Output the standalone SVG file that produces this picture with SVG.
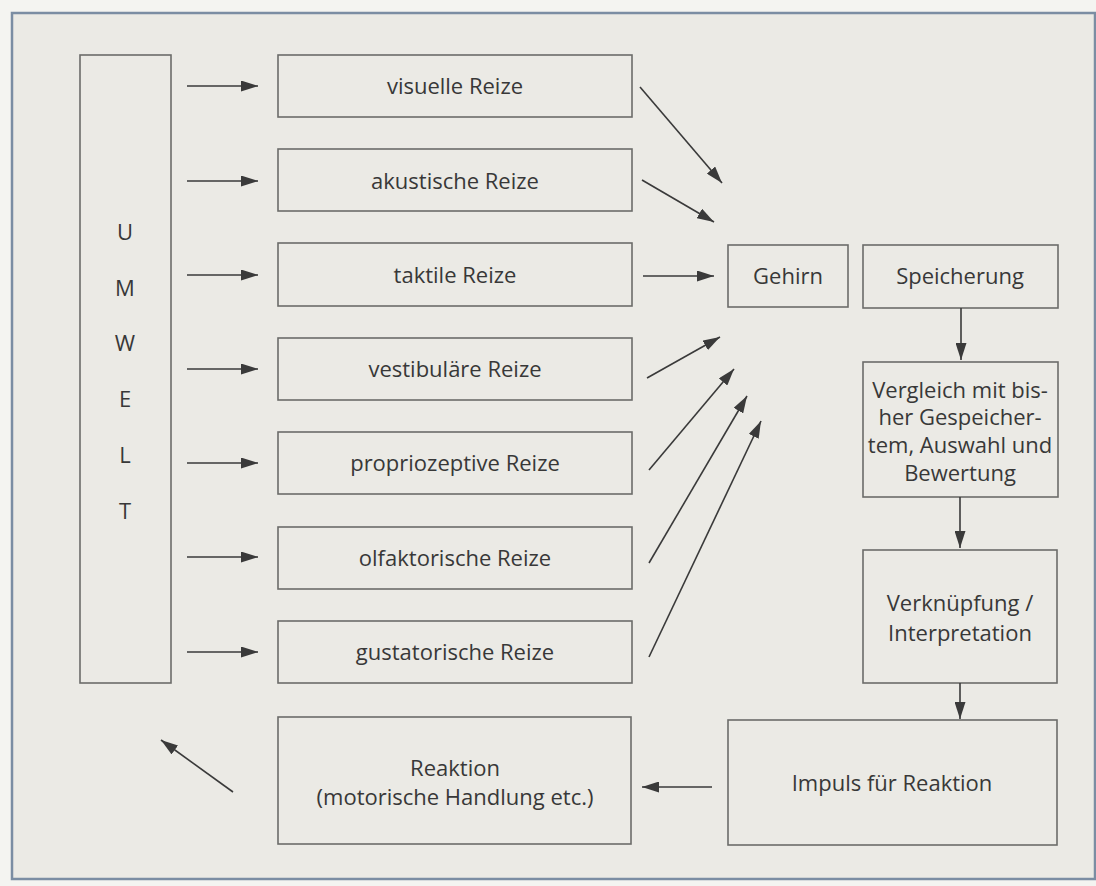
<svg xmlns="http://www.w3.org/2000/svg" width="1096" height="886" viewBox="0 0 1096 886">
<defs>
<marker id="ah" markerWidth="17" markerHeight="11" refX="17" refY="5.5" orient="auto" markerUnits="userSpaceOnUse">
<path d="M0,0 L17,5.5 L0,11 Z" fill="#3a3a3a"/>
</marker>
<style>
.box{fill:#ebeae5;stroke:#6c6c6a;stroke-width:1.6}
.t{font-family:"Open Sans","DejaVu Sans",sans-serif;font-size:22px;fill:#383838;text-anchor:middle}
.c{stroke:#3a3a3a;stroke-width:1.6;fill:none;marker-end:url(#ah)}
</style>
</defs>
<rect x="0" y="0" width="1096" height="886" fill="#f4f4f1"/>
<rect x="12" y="13" width="1083" height="866" fill="#ebeae5" stroke="#7b8da3" stroke-width="2.5"/>

<g id="umwelt">
<rect class="box" x="80" y="55" width="91" height="628"/>
<text class="t" x="125" y="240">U</text>
<text class="t" x="125" y="296">M</text>
<text class="t" x="125" y="351">W</text>
<text class="t" x="125" y="407">E</text>
<text class="t" x="125" y="463">L</text>
<text class="t" x="125" y="519">T</text>
</g>

<g id="visuelle"><rect class="box" x="278" y="55" width="354" height="62"/><text class="t" x="455" y="94">visuelle Reize</text></g>
<g id="akustische"><rect class="box" x="278" y="149" width="354" height="62"/><text class="t" x="455" y="189">akustische Reize</text></g>
<g id="taktile"><rect class="box" x="278" y="243" width="354" height="63"/><text class="t" x="455" y="283">taktile Reize</text></g>
<g id="vestibulaere"><rect class="box" x="278" y="338" width="354" height="62"/><text class="t" x="455" y="377">vestibuläre Reize</text></g>
<g id="proprio"><rect class="box" x="278" y="432" width="354" height="62"/><text class="t" x="455" y="471">propriozeptive Reize</text></g>
<g id="olfaktorische"><rect class="box" x="278" y="527" width="354" height="62"/><text class="t" x="455" y="566">olfaktorische Reize</text></g>
<g id="gustatorische"><rect class="box" x="278" y="621" width="354" height="62"/><text class="t" x="455" y="660">gustatorische Reize</text></g>

<g id="gehirn"><rect class="box" x="728" y="245" width="120" height="62"/><text class="t" x="788" y="284">Gehirn</text></g>
<g id="speicherung"><rect class="box" x="863" y="245" width="195" height="63"/><text class="t" x="960" y="284">Speicherung</text></g>
<g id="vergleich"><rect class="box" x="863" y="362" width="195" height="135"/>
<text class="t" x="960" y="398">Vergleich mit bis-</text>
<text class="t" x="960" y="425">her Gespeicher-</text>
<text class="t" x="960" y="453">tem, Auswahl und</text>
<text class="t" x="960" y="481">Bewertung</text></g>
<g id="verknuepfung"><rect class="box" x="863" y="550" width="194" height="133"/>
<text class="t" x="960" y="611">Verknüpfung /</text>
<text class="t" x="960" y="641">Interpretation</text></g>
<g id="impuls"><rect class="box" x="728" y="720" width="329" height="125"/><text class="t" x="892" y="791">Impuls für Reaktion</text></g>
<g id="reaktion"><rect class="box" x="278" y="717" width="353" height="127"/>
<text class="t" x="455" y="776">Reaktion</text>
<text class="t" x="455" y="805">(motorische Handlung etc.)</text></g>

<g id="connectors">
<line class="c" x1="187" y1="86" x2="258" y2="86"/>
<line class="c" x1="187" y1="181" x2="258" y2="181"/>
<line class="c" x1="187" y1="275" x2="258" y2="275"/>
<line class="c" x1="187" y1="369" x2="258" y2="369"/>
<line class="c" x1="187" y1="463" x2="258" y2="463"/>
<line class="c" x1="187" y1="557" x2="258" y2="557"/>
<line class="c" x1="187" y1="652" x2="258" y2="652"/>
<line class="c" x1="640" y1="87" x2="722" y2="183"/>
<line class="c" x1="642" y1="180" x2="714" y2="222"/>
<line class="c" x1="643" y1="276" x2="714" y2="276"/>
<line class="c" x1="647" y1="378" x2="720" y2="337"/>
<line class="c" x1="649" y1="470" x2="734" y2="369"/>
<line class="c" x1="649" y1="563" x2="747" y2="396"/>
<line class="c" x1="649" y1="657" x2="761" y2="421"/>
<line class="c" x1="961" y1="308" x2="961" y2="360"/>
<line class="c" x1="960" y1="497" x2="960" y2="548"/>
<line class="c" x1="960" y1="683" x2="960" y2="719"/>
<line class="c" x1="712" y1="787" x2="642" y2="787"/>
<line class="c" x1="233" y1="792" x2="161" y2="740"/>
</g>
</svg>
